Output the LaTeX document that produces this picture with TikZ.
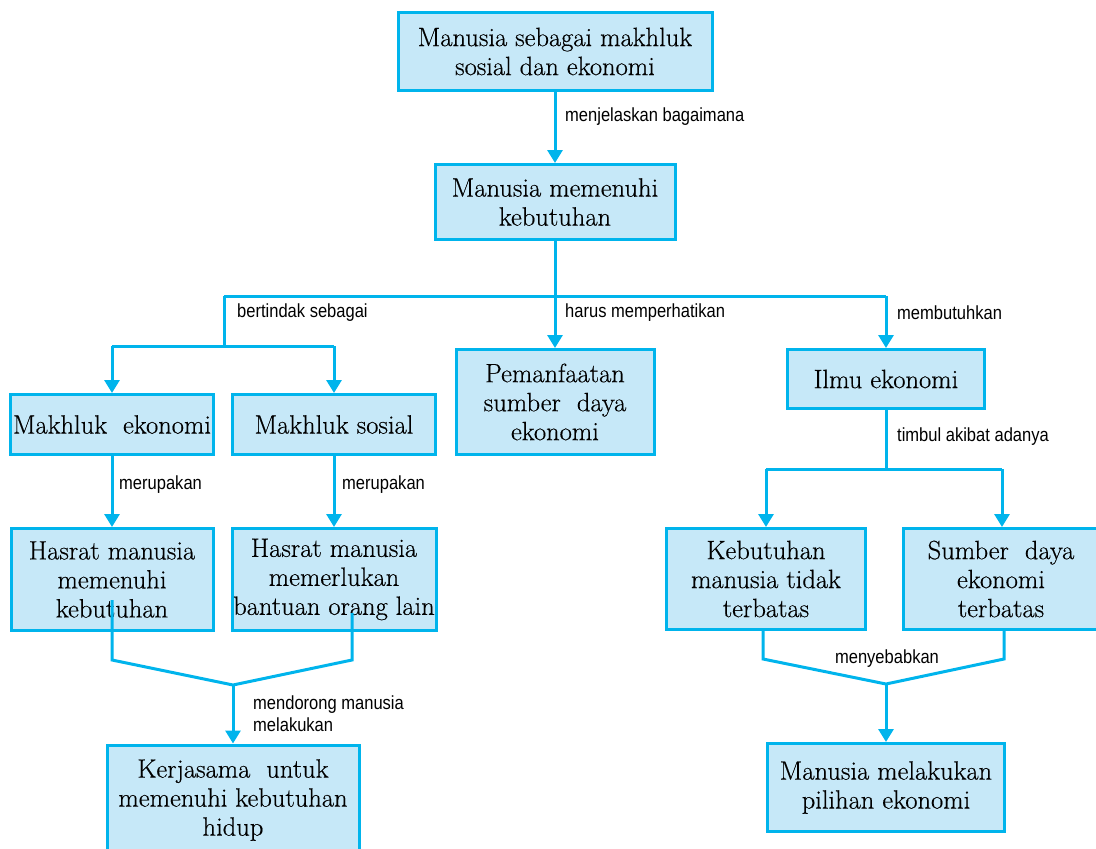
\documentclass[tikz,border=0pt]{standalone}
\usepackage{fontspec}
\newfontfamily\lblfont[FakeStretch=0.87]{Liberation Sans}
\newfontfamily\boxfont[FakeBold=0.4]{Latin Modern Roman}
\usetikzlibrary{arrows.meta}
\definecolor{lineblue}{RGB}{0,180,236}
\definecolor{boxfill}{RGB}{198,232,248}
\begin{document}
\begin{tikzpicture}[x=1pt,y=-1pt,
 box/.style={draw=lineblue, fill=boxfill, line width=3pt, align=center, inner sep=0pt, font=\boxfont\fontsize{26.5}{29}\selectfont, text=black},
 conn/.style={draw=lineblue, line width=3pt},
 arr/.style={conn, -{Triangle[width=15pt,length=13pt]}},
 lbl/.style={font=\lblfont\fontsize{19}{22}\selectfont, anchor=west, inner sep=0pt, align=left, text=black}]
\useasboundingbox (0,0) rectangle (1096,849);
\clip (0,0) rectangle (1096,849);
% boxes
\node[box, minimum width=314pt, minimum height=78pt] (b1) at (555,51.5) {Manusia sebagai makhluk\\sosial dan ekonomi};
\node[box, minimum width=240pt, minimum height=75pt] (b2) at (555,202) {Manusia memenuhi\\kebutuhan};
\node[box, minimum width=203pt, minimum height=60pt] (b3) at (112,424.5) {Makhluk\ \ ekonomi};
\node[box, minimum width=203pt, minimum height=60pt] (b4) at (334,424.5) {Makhluk sosial};
\node[box, minimum width=198pt, minimum height=105pt] (b5) at (555,402) {Pemanfaatan\\sumber\ \ daya\\ekonomi};
\node[box, minimum width=197pt, minimum height=59pt] (b6) at (886,379) {Ilmu ekonomi};
\node[box, minimum width=202pt, minimum height=102pt] (b7) at (112,579.5) {Hasrat manusia\\memenuhi\\kebutuhan};
\node[box, minimum width=204pt, minimum height=102pt] (b8) at (334,579.5) {Hasrat manusia\\memerlukan\\bantuan orang lain};
\node[box, minimum width=199pt, minimum height=101pt] (b9) at (766,579) {Kebutuhan\\manusia tidak\\terbatas};
\node[box, minimum width=195pt, minimum height=101pt] (b10) at (1001,579) {Sumber\ \ daya\\ekonomi\\terbatas};
\node[box, minimum width=252pt, minimum height=110pt] (b11) at (233,800) {Kerjasama\ \ untuk\\memenuhi kebutuhan\\hidup};
\node[box, minimum width=237pt, minimum height=88pt] (b12) at (886,787.5) {Manusia melakukan\\pilihan ekonomi};
% junction coordinates
\coordinate (jl) at (224,296);
\coordinate (jr) at (886,296);
\coordinate (jl2) at (224,346);
\coordinate (s7) at (112,600);
\coordinate (s8) at (352,613);
\coordinate (m1) at (233,685);
\coordinate (jr2) at (886,469);
\coordinate (k1) at (766,469);
\coordinate (k2) at (1002,469);
\coordinate (s9) at (763,659);
\coordinate (s10) at (1004,659);
\coordinate (m2) at (886,684);
% connectors
\draw[arr] (b1.south) -- (b1.south |- b2.north);
\draw[conn] (b2.south) -- (b2.south |- jl);
\draw[conn] (jl) -- (jr);
\draw[arr] (b2.south |- jl) -- (b5.north);
\draw[arr] (jr) -- (b6.north);
\draw[conn] (jl) -- (jl2);
\draw[conn] (b3.north |- jl2) -- (b4.north |- jl2);
\draw[arr] (b3.north |- jl2) -- (b3.north);
\draw[arr] (b4.north |- jl2) -- (b4.north);
\draw[arr] (b3.south) -- (b7.north);
\draw[arr] (b4.south) -- (b8.north);
\draw[conn] (s7) -- (s7 |- 0,660) -- (m1) -- (s8 |- 0,660) -- (s8);
\draw[arr] (m1) -- (b11.north);
\draw[conn] (b6.south) -- (jr2);
\draw[conn] (k1) -- (k2);
\draw[arr] (k1) -- (k1 |- b9.north);
\draw[arr] (k2) -- (k2 |- b10.north);
\draw[conn] (s9 |- b9.south) -- (s9) -- (m2) -- (s10) -- (s10 |- b10.south);
\draw[arr] (m2) -- (b12.north);
% labels
\node[lbl] (l1) at (565,117) {menjelaskan bagaimana};
\node[lbl] (l2) at (237,313) {bertindak sebagai};
\node[lbl] (l3) at (565,313) {harus memperhatikan};
\node[lbl] (l4) at (897,313) {membutuhkan};
\node[lbl] (l5) at (119,485) {merupakan};
\node[lbl] (l6) at (342,485) {merupakan};
\node[lbl] (l7) at (897,437) {timbul akibat adanya};
\node[lbl] (l8) at (253,714) {mendorong manusia\\melakukan};
\node[lbl, anchor=center] (l9) at (887,659) {menyebabkan};
\end{tikzpicture}
\end{document}
